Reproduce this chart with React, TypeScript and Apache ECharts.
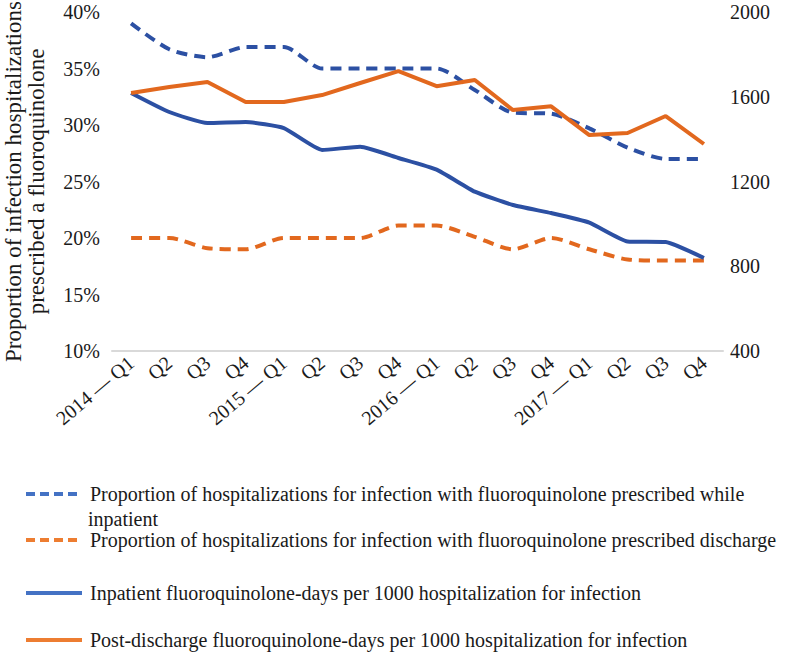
import React, { useEffect, useRef } from "react";
import * as echarts from "echarts";

const categories = [
  "2014 — Q1", "Q2", "Q3", "Q4",
  "2015 — Q1", "Q2", "Q3", "Q4",
  "2016 — Q1", "Q2", "Q3", "Q4",
  "2017 — Q1", "Q2", "Q3", "Q4",
];

// Left axis (%)
const inpatientProportion = [39, 36.7, 36, 36.9, 36.9, 35, 35, 35, 35, 33.1, 31.1, 31, 29.7, 28, 27, 27];
const dischargeProportion = [20, 20, 19.1, 19, 20, 20, 20, 21.1, 21.1, 20.1, 19, 20, 19, 18.1, 18, 18];

// Right axis (days per 1000)
const inpatientDays = [1618, 1528, 1476, 1481, 1452, 1349, 1364, 1311, 1256, 1152, 1089, 1051, 1006, 917, 914, 839];
const postDischargeDays = [1618, 1646, 1670, 1575, 1575, 1608, 1665, 1721, 1650, 1679, 1537, 1555, 1419, 1429, 1509, 1377];

const leftTicks = { min: 10, max: 40, interval: 5 };
const rightTicks = { min: 400, max: 2000, interval: 400 };

const seriesNames = [
  "Proportion of hospitalizations for infection with fluoroquinolone prescribed while inpatient",
  "Proportion of hospitalizations for infection with fluoroquinolone prescribed discharge",
  "Inpatient fluoroquinolone-days per 1000 hospitalization for infection",
  "Post-discharge fluoroquinolone-days per 1000 hospitalization for infection",
];

const BLUE = "#2C50A3";
const ORANGE = "#E2681E";
const FONT = "Liberation Serif";
const TXT = "#1a1a1a";

export default function App() {
  const ref = useRef<HTMLDivElement>(null);
  useEffect(() => {
    if (!ref.current) return;
    const chart = echarts.init(ref.current, undefined, { renderer: "svg" });
    const legendText = { fontFamily: FONT, fontSize: 20, color: TXT, padding: [0, 0, 0, 3] };
    const legendTops = [484, 530, 583, 630];
    const legendIcons = [
      { color: "#4472C4", type: [9, 5] },
      { color: "#ED7D31", type: [9, 5] },
      { color: "#4472C4", type: "solid" },
      { color: "#ED7D31", type: "solid" },
    ];
    chart.setOption({
      animation: false,
      backgroundColor: "#ffffff",
      grid: { left: 112, right: 76, top: 12, bottom: 302, containLabel: false, outerBoundsMode: "none" },
      legend: seriesNames.map((n, i) => ({
        data: [n],
        left: 24,
        top: legendTops[i],
        padding: 0,
        orient: "vertical",
        itemWidth: 56,
        itemHeight: 14,
        selectedMode: false,
        textStyle: legendText,
        itemStyle: { opacity: 0 },
        lineStyle: { width: 4, color: legendIcons[i].color, type: legendIcons[i].type as any },
        formatter: (name: string) =>
          i === 0 ? "Proportion of hospitalizations for infection with fluoroquinolone prescribed while" : name,
      })),
      graphic: [
        {
          type: "text",
          left: 88,
          top: 509,
          style: { text: "inpatient", font: `20px "${FONT}"`, fill: TXT },
        },
      ],
      xAxis: {
        type: "category",
        data: categories,
        boundaryGap: true,
        axisLine: { show: true, lineStyle: { color: "#d9d9d9", width: 2 } },
        axisTick: { show: false },
        axisLabel: {
          interval: 0,
          rotate: 40,
          margin: 9,
          fontFamily: FONT,
          fontSize: 20,
          color: TXT,
        },
        splitLine: { show: false },
      },
      yAxis: [
        {
          type: "value",
          ...leftTicks,
          position: "left",
          name: "Proportion of infection hospitalizations\nprescribed a fluoroquinolone",
          nameLocation: "middle",
          nameGap: 64,
          nameTextStyle: { fontFamily: FONT, fontSize: 23, color: TXT, lineHeight: 23 },
          axisLine: { show: false },
          axisTick: { show: false },
          splitLine: { show: false },
          axisLabel: {
            formatter: "{value}%",
            margin: 12,
            fontFamily: FONT,
            fontSize: 20,
            color: TXT,
          },
        },
        {
          type: "value",
          ...rightTicks,
          position: "right",
          axisLine: { show: false },
          axisTick: { show: false },
          splitLine: { show: false },
          axisLabel: {
            formatter: (v: number) => String(v),
            margin: 7,
            fontFamily: FONT,
            fontSize: 20,
            color: TXT,
          },
        },
      ],
      series: [
        {
          name: seriesNames[0],
          type: "line",
          yAxisIndex: 0,
          data: inpatientProportion,
          smooth: 0.25,
          symbol: "none",
          lineStyle: { color: BLUE, width: 4, type: [11, 7] },
          itemStyle: { color: BLUE },
        },
        {
          name: seriesNames[1],
          type: "line",
          yAxisIndex: 0,
          data: dischargeProportion,
          smooth: 0.25,
          symbol: "none",
          lineStyle: { color: ORANGE, width: 4, type: [11, 7] },
          itemStyle: { color: ORANGE },
        },
        {
          name: seriesNames[2],
          type: "line",
          yAxisIndex: 1,
          data: inpatientDays,
          smooth: 0.15,
          symbol: "none",
          lineStyle: { color: BLUE, width: 4 },
          itemStyle: { color: BLUE },
        },
        {
          name: seriesNames[3],
          type: "line",
          yAxisIndex: 1,
          data: postDischargeDays,
          smooth: false,
          symbol: "none",
          lineStyle: { color: ORANGE, width: 4 },
          itemStyle: { color: ORANGE },
        },
      ],
    });
    return () => chart.dispose();
  }, []);
  return <div ref={ref} style={{ width: 799, height: 653, position: "absolute", left: 0, top: 0 }} />;
}
